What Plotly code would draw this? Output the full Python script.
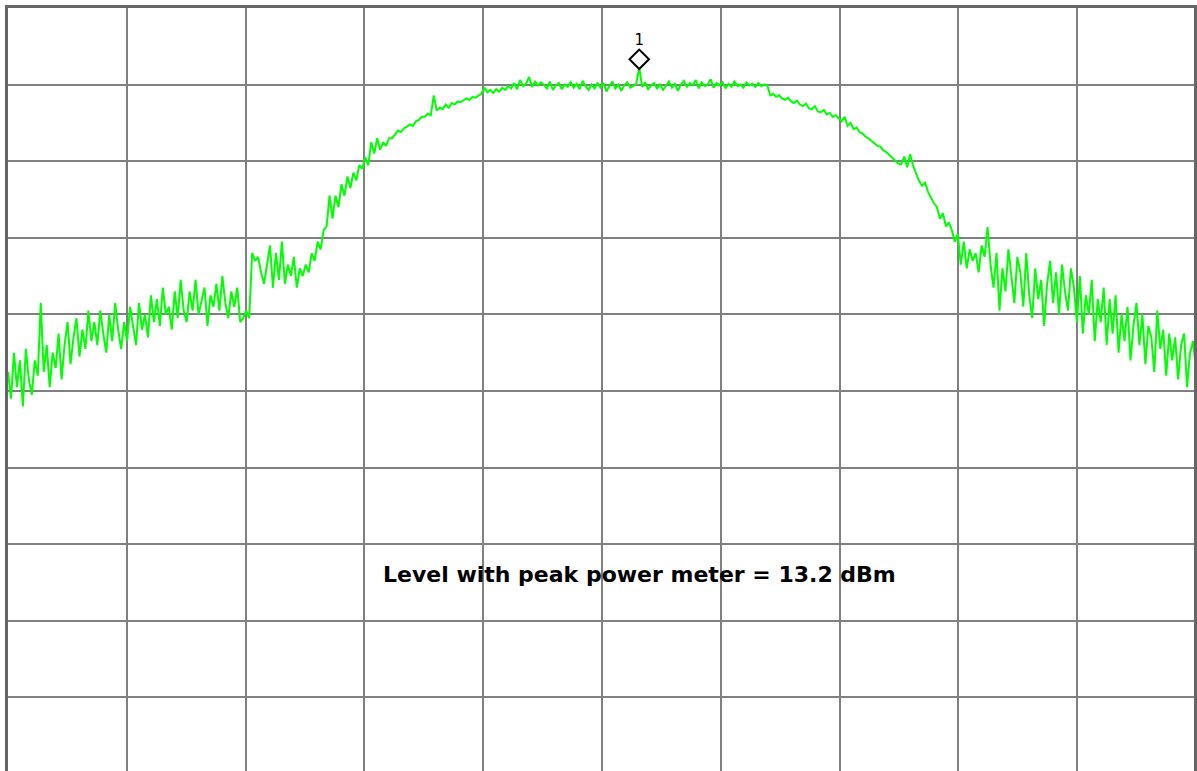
import numpy as np
import plotly.graph_objects as go

# Trace level (dBm), 400 sweep points across 10 divisions
level_dbm = [
    -27.5, -31.0, -25.0, -29.5, -26.0, -32.0, -24.5, -28.5, -30.5, -26.0,
    -28.0, -18.5, -27.5, -24.0, -29.5, -25.0, -27.0, -22.5, -28.5, -24.0,
    -21.0, -26.5, -23.0, -20.5, -25.5, -22.0, -24.5, -19.5, -23.5, -21.0,
    -24.0, -19.5, -22.5, -25.0, -20.0, -23.5, -18.5, -22.0, -24.5, -21.0,
    -23.5, -19.0, -21.5, -24.0, -18.5, -22.0, -20.0, -23.0, -17.5, -21.0,
    -18.0, -21.5, -16.5, -20.0, -19.0, -22.0, -17.0, -20.5, -15.5, -19.5,
    -21.0, -17.0, -19.5, -15.5, -20.0, -18.0, -16.5, -21.5, -17.5, -19.0,
    -16.0, -19.5, -15.0, -18.5, -20.5, -17.0, -19.0, -16.5, -21.0, -20.5,
    -19.5, -20.5, -12.0, -13.0, -12.5, -14.5, -16.0, -13.5, -11.0, -16.5,
    -12.0, -15.5, -10.5, -16.0, -13.5, -15.0, -12.5, -16.5, -14.0, -15.0,
    -13.5, -14.5, -12.0, -13.0, -10.5, -11.5, -9.0, -8.5, -4.5, -7.5,
    -4.5, -6.0, -3.0, -4.5, -2.0, -3.5, -1.5, -2.5, -0.5, -1.0,
    0.5, -0.5, 2.5, 1.0, 3.0, 1.5, 2.5, 2.0, 3.0, 3.0,
    3.5, 4.0, 3.8, 4.3, 4.5, 4.8, 4.6, 5.2, 5.4, 5.8,
    5.8, 6.2, 6.0, 8.6, 6.6, 7.0, 6.8, 7.4, 7.0, 7.6,
    7.4, 7.8, 7.7, 8.0, 8.2, 8.0, 8.4, 8.3, 8.6, 8.8,
    9.6, 9.0, 9.3, 8.9, 9.4, 9.1, 9.6, 9.3, 9.8, 9.5,
    10.2, 9.4, 10.6, 9.8, 10.1, 11.0, 9.7, 10.4, 9.9, 10.3,
    10.0, 9.5, 10.4, 9.3, 9.9, 10.2, 9.4, 10.0, 9.7, 10.3,
    9.6, 10.1, 9.4, 10.5, 9.8, 9.3, 10.0, 9.5, 10.2, 9.6,
    10.2, 9.1, 9.8, 10.4, 9.5, 10.0, 9.2, 9.9, 10.3, 9.6,
    9.8, 10.1, 12.2, 9.7, 10.3, 9.4, 9.9, 10.2, 9.5, 10.0,
    9.3, 9.8, 10.4, 9.6, 10.1, 9.2, 10.0, 10.5, 9.7, 10.2,
    9.9, 10.6, 9.5, 10.3, 9.8, 10.0, 10.7, 9.6, 10.2, 9.9,
    10.3, 9.5, 10.1, 9.7, 10.4, 9.8, 10.0, 9.6, 10.3, 9.9,
    10.1, 9.7, 10.2, 9.8, 10.0, 9.9, 8.6, 8.8, 8.4, 8.6,
    8.2, 8.0, 8.3, 7.8, 7.6, 7.9, 7.4, 7.2, 7.5, 6.9,
    6.8, 7.2, 6.5, 6.4, 6.7, 6.1, 6.3, 5.8, 6.0, 5.6,
    5.2, 5.8, 4.6, 5.0, 4.2, 4.4, 3.8, 3.6, 3.2, 3.0,
    2.7, 2.4, 2.0, 1.9, 1.4, 1.2, 0.8, 0.5, 0.0, -0.3,
    -0.4, 0.6, -0.8, 0.9, -0.6, -1.5, -2.6, -3.2, -2.8, -4.0,
    -4.8, -5.5, -6.0, -7.5, -6.8, -8.5, -8.0, -9.0, -10.5, -9.5,
    -13.5, -10.5, -14.0, -11.5, -13.0, -12.0, -14.5, -11.0, -12.5, -8.6,
    -13.5, -16.5, -12.0, -19.5, -14.0, -17.0, -11.5, -15.5, -18.5, -12.5,
    -14.5, -19.0, -12.0, -17.5, -20.5, -14.0, -18.0, -15.5, -21.5, -16.0,
    -13.0, -18.5, -14.5, -20.0, -13.5, -17.0, -19.5, -14.0, -16.5, -21.0,
    -15.0, -22.5, -17.5, -20.0, -15.5, -23.5, -18.0, -21.0, -16.5, -24.0,
    -18.0, -22.5, -17.5, -25.0, -20.0, -23.5, -19.0, -26.0, -21.5, -18.5,
    -24.0, -20.0, -26.5, -21.5, -23.0, -27.5, -19.5, -24.5, -22.0, -28.0,
    -22.5, -26.0, -23.0, -28.5, -24.0, -22.5, -29.5, -25.0, -23.5, -27.0,
]
sweep_points = np.linspace(0, 1000, len(level_dbm))

marker_index = 212
marker_label = "1"
marker_display_level = 13.3

ref_level = 20.0
db_per_div = 10.0
note_text = "Level with peak power meter = 13.2 dBm"

fig = go.Figure()
fig.add_trace(go.Scatter(
    x=sweep_points, y=level_dbm, mode="lines",
    line=dict(color="#00ff00", width=2), hoverinfo="skip", showlegend=False,
))
fig.add_trace(go.Scatter(
    x=[sweep_points[marker_index]], y=[marker_display_level],
    mode="markers+text", text=[marker_label], textposition="top center",
    textfont=dict(family="DejaVu Sans", size=15, color="black"),
    marker=dict(symbol="diamond-open", size=15, color="black", line=dict(width=2, color="black")),
    showlegend=False, hoverinfo="skip",
))

fig.add_annotation(
    x=sweep_points[marker_index], y=-53.9, xref="x", yref="y",
    text="<b>" + note_text + "</b>", showarrow=False,
    font=dict(family="DejaVu Sans", size=22, color="black"),
    xanchor="center", yanchor="middle",
)

grid_col = "#808080"
frame_col = "#666666"
fig.update_xaxes(
    range=[0, 1000 * 1188 / 1190], tick0=0, dtick=100,
    showticklabels=False, ticks="", showgrid=True, gridcolor=grid_col, gridwidth=2,
    zeroline=False, showline=True, mirror=True, linecolor=frame_col, linewidth=3,
)
fig.update_yaxes(
    range=[ref_level - 10 * db_per_div * 763 / 766, ref_level], tick0=ref_level, dtick=db_per_div,
    showticklabels=False, ticks="", showgrid=True, gridcolor=grid_col, gridwidth=2,
    zeroline=False, showline=True, mirror=True, linecolor=frame_col, linewidth=3,
)
fig.update_layout(
    width=1197, height=771,
    margin=dict(l=8, r=1, t=8, b=0),
    paper_bgcolor="white", plot_bgcolor="white",
)
fig.write_html("out.html")
